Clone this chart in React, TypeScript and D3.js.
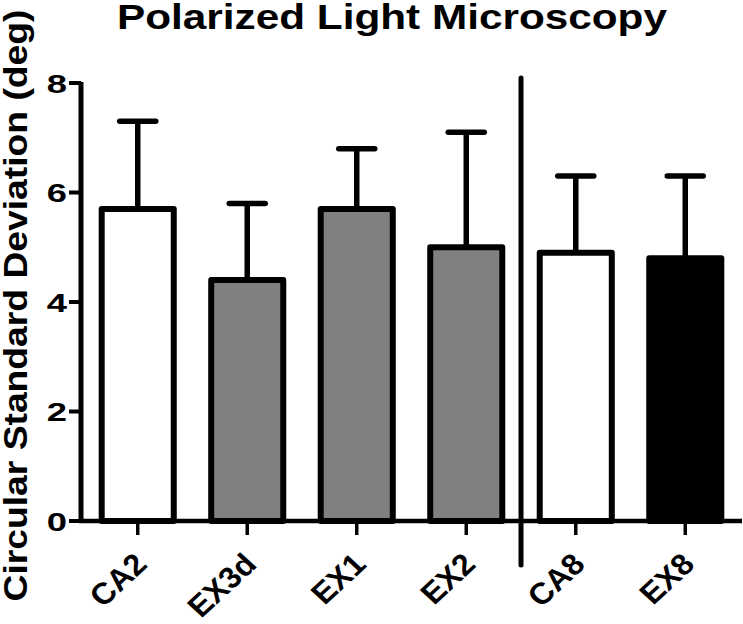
import React from "react";
import * as d3 from "d3";

const categories = ["CA2", "EX3d", "EX1", "EX2", "CA8", "EX8"];
const means = [5.7, 4.4, 5.7, 5.0, 4.9, 4.8];
const sds = [1.6, 1.4, 1.1, 2.1, 1.4, 1.5];
const fills = ["#ffffff", "#808080", "#808080", "#808080", "#ffffff", "#000000"];
const yTicks = [0, 2, 4, 6, 8];
const title = "Polarized Light Microscopy";
const yLabel = "Circular Standard Deviation (deg)";
const dividerAfter = "EX2";

const W = 743;
const H = 624;
const x0 = 81;
const x1 = 742;
const yBase = 521;
const yTop = 83;

export default function App() {
  const x = d3
    .scaleBand<string>()
    .domain(categories)
    .range([x0, x1])
    .paddingInner(0.342)
    .paddingOuter(0.189);
  const y = d3.scaleLinear().domain([0, 8]).range([yBase, yTop]);
  const bw = x.bandwidth();
  const cx = (c: string) => (x(c) as number) + bw / 2;
  const di = categories.indexOf(dividerAfter);
  const divX = (cx(categories[di]) + cx(categories[di + 1])) / 2;
  const font = "'Liberation Sans', Arial, sans-serif";

  return (
    <svg width={W} height={H} style={{ position: "absolute", left: 0, top: 0, background: "#fff" }}>
      <rect x={0} y={0} width={W} height={H} fill="#fff" />
      {/* title */}
      <text
        x={117}
        y={29}
        fontFamily={font}
        fontWeight="bold"
        fontSize={35}
        textLength={550}
        lengthAdjust="spacingAndGlyphs"
      >
        {title}
      </text>
      {/* y label */}
      <g transform={`translate(27,${(603 + 8) / 2}) rotate(-90)`}>
        <text
          x={0}
          y={0}
          textAnchor="middle"
          fontFamily={font}
          fontWeight="bold"
          fontSize={34}
          textLength={592}
          lengthAdjust="spacingAndGlyphs"
        >
          {yLabel}
        </text>
      </g>
      {/* bars */}
      {categories.map((c, i) => (
        <g key={c}>
          <line
            x1={cx(c)}
            x2={cx(c)}
            y1={y(means[i])}
            y2={y(means[i] + sds[i])}
            stroke="#000"
            strokeWidth={5.5}
          />
          <line
            x1={cx(c) - 18}
            x2={cx(c) + 18}
            y1={y(means[i] + sds[i])}
            y2={y(means[i] + sds[i])}
            stroke="#000"
            strokeWidth={5.5}
            strokeLinecap="round"
          />
          <rect
            x={x(c)}
            y={y(means[i])}
            width={bw}
            height={yBase - y(means[i])}
            fill={fills[i]}
            stroke="#000"
            strokeWidth={6}
            strokeLinejoin="round"
          />
        </g>
      ))}
      {/* y axis */}
      <line x1={x0} x2={x0} y1={yTop - 1} y2={yBase + 2} stroke="#000" strokeWidth={5} />
      {yTicks.map((t) => (
        <g key={t}>
          <line x1={x0 - 12} x2={x0} y1={y(t)} y2={y(t)} stroke="#000" strokeWidth={4} />
          <g transform={`translate(67,${y(t) + 9.5}) scale(1.4,1)`}>
            <text x={0} y={0} textAnchor="end" fontFamily={font} fontWeight="bold" fontSize={26}>
              {t}
            </text>
          </g>
        </g>
      ))}
      {/* x axis */}
      <line x1={x0 - 2} x2={x1} y1={yBase} y2={yBase} stroke="#000" strokeWidth={4.5} />
      {categories.map((c) => (
        <g key={c}>
          <line x1={cx(c)} x2={cx(c)} y1={yBase} y2={yBase + 14} stroke="#000" strokeWidth={3.5} />
          <g transform={`translate(${cx(c) + 11},566) scale(1.08,1) rotate(-45)`}>
            <text x={0} y={0} textAnchor="end" fontFamily={font} fontWeight="bold" fontSize={30}>
              {c}
            </text>
          </g>
        </g>
      ))}
      {/* divider */}
      <line x1={divX} x2={divX} y1={78} y2={565} stroke="#000" strokeWidth={5} strokeLinecap="round" />
    </svg>
  );
}
